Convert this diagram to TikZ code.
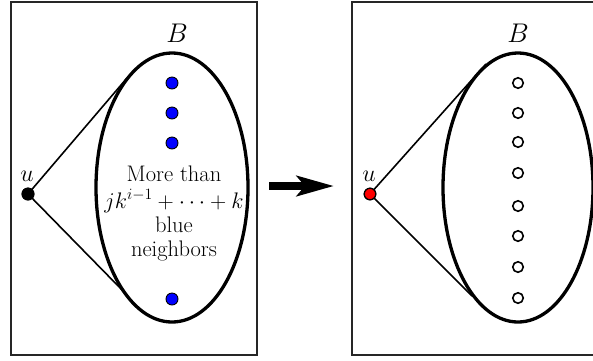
\RequirePackage{fix-cm}
\documentclass[tikz,border=0pt]{standalone}
\usetikzlibrary{arrows.meta}
\begin{document}
\begin{tikzpicture}[x=1pt,y=-1pt,
  frame/.style={draw=black!85,line width=1.4pt},
  setell/.style={draw,line width=3.3pt},
  edge/.style={draw,line width=1.6pt},
  bluedot/.style={circle,draw,fill=blue,line width=0.9pt,minimum size=12pt,inner sep=0pt},
  opendot/.style={circle,draw,fill=white,line width=1.6pt,minimum size=10.5pt,inner sep=0pt},
  udot/.style={circle,draw,fill=black,line width=0.9pt,minimum size=12pt,inner sep=0pt},
  reddot/.style={circle,draw,fill=red,line width=1.2pt,minimum size=11.5pt,inner sep=0pt},
  lbl/.style={font=\fontsize{24}{28}\selectfont,inner sep=0pt},
  blbl/.style={font=\fontsize{27}{30}\selectfont,inner sep=0pt}]
\useasboundingbox (0,0) rectangle (593,360);
% frames
\draw[frame] (11,2) rectangle (257,355);
\draw[frame] (352,2) rectangle (600,355);
% left panel
\draw[setell] (172,187.5) ellipse [x radius=76,y radius=134.5];
\node[blbl] (B1) at (177,33) {$B$};
\node[udot] (u1) at (28,194) {};
\node[lbl] (ul1) at (27,176) {$u$};
\coordinate (t1) at (127,78);
\coordinate (t2) at (127,295);
\draw[edge] (u1.center) -- (t1);
\draw[edge] (u1.center) -- (t2);
\node[udot] at (u1) {};
\node[bluedot] (b1) at (172,83) {};
\node[bluedot] (b2) at (172,113) {};
\node[bluedot] (b3) at (172,143) {};
\node[bluedot] (b4) at (172,299) {};
\node[inner sep=0pt,align=center,font=\fontsize{22.5}{24}\selectfont] (txt) at (174,213) {More than\\[3pt]$jk^{i-1}+\cdots+k$\\blue\\neighbors};
% arrow
\coordinate (a0) at (269,186);
\coordinate (a1) at (334,186);
\draw[line width=7.5pt,-{Stealth[length=37pt,width=20pt,inset=8pt]}] (a0) -- (a1);
% right panel
\draw[setell] (518,187.5) ellipse [x radius=75,y radius=134.5];
\node[blbl] (B2) at (518,33) {$B$};
\node[reddot] (u2) at (370,194) {};
\node[lbl] (ul2) at (369,176) {$u$};
\coordinate (s1) at (486,64);
\coordinate (s2) at (472,296);
\draw[edge] (u2.center) -- (s1);
\draw[edge] (u2.center) -- (s2);
\node[reddot] at (u2) {};
\foreach \y [count=\i] in {83,113,142,173,206,236,267,298}
  \node[opendot] (w\i) at (518,\y) {};
\end{tikzpicture}
\end{document}
